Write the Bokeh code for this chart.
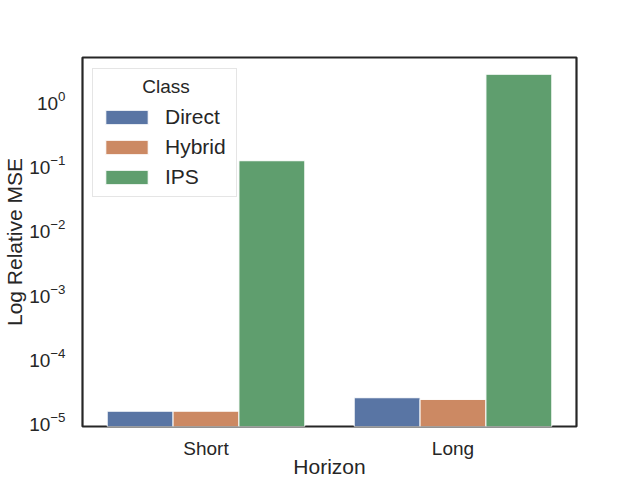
import math
from bokeh.plotting import figure
from bokeh.models import FactorRange, Range1d, ColumnDataSource
from bokeh.transform import dodge
from bokeh.embed import file_html
from bokeh.resources import INLINE

# ---- data ----
horizons = ["Short", "Long"]
classes = ["Direct", "Hybrid", "IPS"]
direct = [1.47e-5, 2.38e-5]
hybrid = [1.47e-5, 2.24e-5]
ips = [0.114, 2.51]

colors = ["#5975a4", "#cc8963", "#5f9e6e"]
y_low, y_high = 10 ** -5.07, 10 ** 0.66
TXT = "#262626"
FONT = "Liberation Sans"

p = figure(width=640, height=480,
           x_range=FactorRange(*horizons),
           y_range=Range1d(y_low, y_high),
           y_axis_type="log",
           output_backend="svg", toolbar_location=None,
           min_border_left=80, min_border_right=64,
           min_border_top=57, min_border_bottom=54)

src = ColumnDataSource(dict(h=horizons, Direct=direct, Hybrid=hybrid, IPS=ips))
w = 0.8 / 3
for i, (c, col) in enumerate(zip(classes, colors)):
    p.vbar(x=dodge("h", (i - 1) * w, range=p.x_range), top=c, bottom=y_low / 10,
           width=w, source=src, fill_color=col, line_color="white",
           line_width=1, legend_label=c)

p.xgrid.visible = False
p.ygrid.visible = False
p.outline_line_color = TXT
p.outline_line_width = 2.2
p.background_fill_color = "white"
p.border_fill_color = "white"

for ax in (p.xaxis, p.yaxis):
    ax.axis_line_color = None
    ax.major_tick_line_color = None
    ax.minor_tick_line_color = None
    ax.major_label_text_font = FONT
    ax.major_label_text_font_size = "19px"
    ax.major_label_text_color = TXT
    ax.axis_label_text_font = FONT
    ax.axis_label_text_font_size = "21px"
    ax.axis_label_text_font_style = "normal"
    ax.axis_label_text_color = TXT

p.xaxis.axis_label = "Horizon"
p.yaxis.axis_label = "Log Relative MSE"
p.xaxis.major_label_standoff = 5
p.xaxis.axis_label_standoff = -7
p.yaxis.major_label_standoff = 11
p.yaxis.axis_label_standoff = 0

lg = p.legend[0]
lg.location = (10, 229)
lg.padding = 7
lg.spacing = 6
lg.glyph_width = 53
lg.glyph_height = 18
lg.label_height = 22
lg.label_width = 64
lg.label_standoff = 12
lg.label_text_font = FONT
lg.label_text_font_size = "21px"
lg.label_text_color = TXT
lg.title = "\u00a0" * 8 + "Class"
lg.title_text_font = FONT
lg.title_text_font_size = "19px"
lg.title_text_font_style = "normal"
lg.title_text_color = TXT
lg.title_standoff = 7
lg.border_line_color = "#cccccc"
lg.border_line_width = 1
lg.background_fill_alpha = 0.8

open("out.html", "w").write(file_html(p, INLINE))
